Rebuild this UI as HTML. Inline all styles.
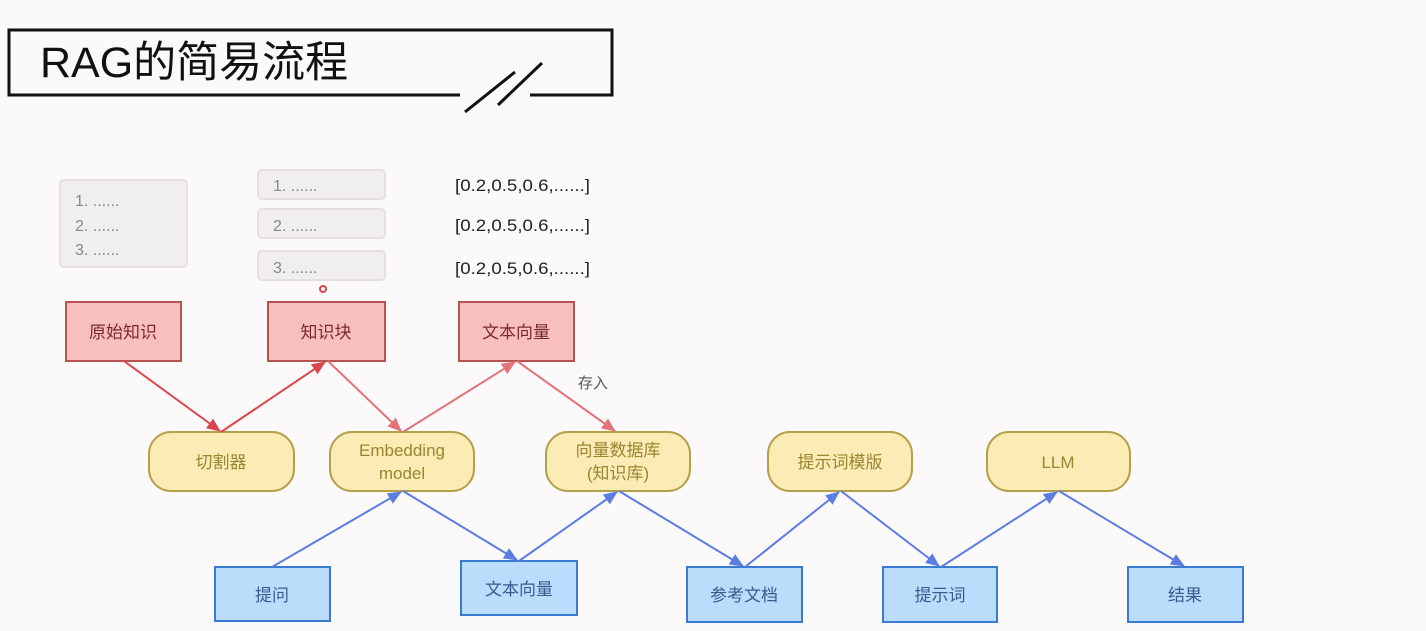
<!DOCTYPE html>
<html><head><meta charset="utf-8"><style>
html,body{margin:0;padding:0;background:#fcf9fb;}
svg{display:block;font-family:"Liberation Sans","Noto Sans CJK SC",sans-serif;}
</style></head><body>
<svg width="1426" height="631" viewBox="0 0 1426 631" xmlns="http://www.w3.org/2000/svg">
<defs>
<marker id="ar" markerWidth="14" markerHeight="12" refX="13" refY="6" orient="auto" markerUnits="userSpaceOnUse" viewBox="0 0 14 12"><path d="M0,0 L14,6 L0,12 Z" fill="#d9474c"/></marker>
<marker id="ar2" markerWidth="14" markerHeight="12" refX="13" refY="6" orient="auto" markerUnits="userSpaceOnUse" viewBox="0 0 14 12"><path d="M0,0 L14,6 L0,12 Z" fill="#e37378"/></marker>
<marker id="ab" markerWidth="14" markerHeight="12" refX="13" refY="6" orient="auto" markerUnits="userSpaceOnUse" viewBox="0 0 14 12"><path d="M0,0 L14,6 L0,12 Z" fill="#5b7de2"/></marker>
</defs>
<path d="M460,95 L9,95 L9,30 L612,30 L612,95 L530,95" fill="none" stroke="#111" stroke-width="3"/>
<line x1="465" y1="112" x2="515" y2="72" stroke="#111" stroke-width="3"/>
<line x1="498" y1="105" x2="542" y2="63" stroke="#111" stroke-width="3"/>
<text x="40" y="77" font-size="43" fill="#111">RAG的简易流程</text>
<rect x="60" y="180" width="127" height="87" rx="4" fill="#f1eef0" stroke="#e4e0e2" stroke-width="2"/>
<g font-size="16" fill="#888"><text x="75" y="206">1. ......</text><text x="75" y="231">2. ......</text><text x="75" y="255">3. ......</text></g>
<rect x="258" y="170" width="127" height="29" rx="4" fill="#f1eef0" stroke="#e4e0e2" stroke-width="2"/>
<rect x="258" y="209" width="127" height="29" rx="4" fill="#f1eef0" stroke="#e4e0e2" stroke-width="2"/>
<rect x="258" y="251" width="127" height="29" rx="4" fill="#f1eef0" stroke="#e4e0e2" stroke-width="2"/>
<g font-size="16" fill="#888"><text x="273" y="191">1. ......</text><text x="273" y="231">2. ......</text><text x="273" y="273">3. ......</text></g>
<g font-size="17" fill="#222"><text x="455" y="191" textLength="135" lengthAdjust="spacingAndGlyphs">[0.2,0.5,0.6,......]</text><text x="455" y="231" textLength="135" lengthAdjust="spacingAndGlyphs">[0.2,0.5,0.6,......]</text><text x="455" y="274" textLength="135" lengthAdjust="spacingAndGlyphs">[0.2,0.5,0.6,......]</text></g>
<circle cx="323" cy="289" r="3" fill="none" stroke="#d9474c" stroke-width="2"/>
<g fill="#f8bfc0" stroke="#b85450" stroke-width="2">
<rect x="66" y="302" width="115" height="59"/><rect x="268" y="302" width="117" height="59"/><rect x="459" y="302" width="115" height="59"/></g>
<g font-size="17" fill="#7a2a2a" text-anchor="middle"><text x="123" y="338">原始知识</text><text x="326" y="338">知识块</text><text x="516" y="338">文本向量</text></g>
<g fill="#fbebb5" stroke="#b5a04a" stroke-width="2">
<rect x="149" y="432" width="145" height="59" rx="22"/><rect x="330" y="432" width="144" height="59" rx="22"/><rect x="546" y="432" width="144" height="59" rx="22"/><rect x="768" y="432" width="144" height="59" rx="22"/><rect x="987" y="432" width="143" height="59" rx="22"/></g>
<g font-size="17" fill="#9a8530" text-anchor="middle">
<text x="221" y="468">切割器</text><text x="402" y="456">Embedding</text><text x="402" y="479">model</text>
<text x="618" y="456">向量数据库</text><text x="618" y="479">(知识库)</text><text x="840" y="468">提示词模版</text><text x="1058" y="468">LLM</text></g>
<g fill="#bcdcfb" stroke="#3a7ad0" stroke-width="2">
<rect x="215" y="567" width="115" height="54"/><rect x="461" y="561" width="116" height="54"/><rect x="687" y="567" width="115" height="55"/><rect x="883" y="567" width="114" height="55"/><rect x="1128" y="567" width="115" height="55"/></g>
<g font-size="17" fill="#3a5a90" text-anchor="middle">
<text x="272" y="601">提问</text><text x="519" y="595">文本向量</text><text x="744" y="601">参考文档</text><text x="940" y="601">提示词</text><text x="1185" y="601">结果</text></g>
<g stroke-width="2" fill="none">
<line x1="124" y1="361" x2="220" y2="431" stroke="#d9474c" marker-end="url(#ar)"/>
<line x1="221" y1="432" x2="325" y2="362" stroke="#d9474c" marker-end="url(#ar)"/>
<line x1="328" y1="361" x2="401" y2="431" stroke="#e37378" marker-end="url(#ar2)"/>
<line x1="403" y1="432" x2="515" y2="362" stroke="#e37378" marker-end="url(#ar2)"/>
<line x1="517" y1="361" x2="615" y2="431" stroke="#e37378" marker-end="url(#ar2)"/>
<g stroke="#5b7de2">
<line x1="272" y1="567" x2="401" y2="492" marker-end="url(#ab)"/>
<line x1="403" y1="491" x2="517" y2="560" marker-end="url(#ab)"/>
<line x1="519" y1="561" x2="617" y2="492" marker-end="url(#ab)"/>
<line x1="619" y1="491" x2="743" y2="566" marker-end="url(#ab)"/>
<line x1="745" y1="567" x2="839" y2="492" marker-end="url(#ab)"/>
<line x1="841" y1="491" x2="939" y2="566" marker-end="url(#ab)"/>
<line x1="941" y1="567" x2="1057" y2="492" marker-end="url(#ab)"/>
<line x1="1059" y1="491" x2="1184" y2="566" marker-end="url(#ab)"/>
</g></g>
<text x="578" y="388" font-size="15" fill="#555">存入</text>
</svg>
</body></html>
